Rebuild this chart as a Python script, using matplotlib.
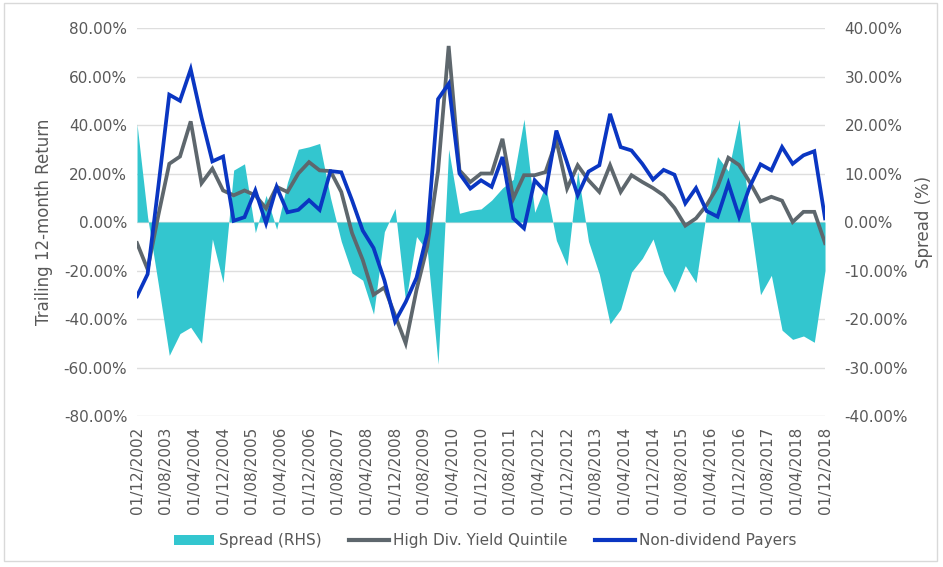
import matplotlib
matplotlib.use("Agg")
import matplotlib.pyplot as plt
import matplotlib.dates as mdates
from matplotlib.lines import Line2D
from matplotlib.patches import Patch, Rectangle
from matplotlib.ticker import FuncFormatter, FixedLocator
import pandas as pd

# quarterly observations, Dec 2002 .. Dec 2018
dates = pd.date_range("2002-12-01", "2018-12-01", freq="3MS")
tick_dates = pd.date_range("2002-12-01", "2018-12-01", freq="8MS")

# trailing 12-month return, % (left axis)
high_div = [
    -8.7, -19.5, 3.0, 24.0, 27.0, 41.5, 16.0, 22.0, 13.0, 11.0,
    13.0, 11.0, 5.6, 14.5, 12.4, 20.0, 24.7, 21.3, 21.0, 12.4,
    -4.5, -15.6, -30.0, -27.0, -38.5, -50.0, -28.0, -10.0, 21.0, 72.6,
    21.3, 16.5, 20.0, 20.0, 34.3, 9.7, 19.3, 19.3, 20.6, 33.6,
    13.8, 23.4, 17.2, 12.4, 23.4, 12.4, 19.3, 16.5, 14.0, 11.0,
    5.8, -1.5, 1.5, 7.0, 14.5, 26.5, 23.5, 16.5, 8.5, 10.4,
    8.8, 0.0, 4.2, 4.2, -8.7,
]
non_div = [
    -30.6, -21.5, 15.0, 52.5, 50.0, 63.0, 43.0, 25.0, 27.0, 0.5,
    2.0, 13.0, -0.5, 14.5, 4.0, 5.0, 9.0, 5.0, 21.0, 20.5,
    9.0, -3.5, -10.7, -24.0, -41.0, -33.0, -23.0, -4.6, 50.7, 57.0,
    20.0, 13.8, 17.2, 14.5, 26.8, 1.5, -2.6, 17.2, 12.4, 37.7,
    24.5, 11.0, 20.8, 23.4, 44.6, 30.9, 29.5, 24.0, 17.5, 21.5,
    19.5, 7.7, 14.0, 4.5, 2.2, 15.9, 2.2, 14.5, 23.8, 21.3,
    30.9, 24.0, 27.5, 29.2, 1.5,
]
# spread, % (right axis)
spread = [
    20.2, 1.0, -13.0, -27.5, -23.0, -21.7, -25.0, -3.5, -12.5, 10.7,
    12.0, -2.2, 5.5, -1.5, 8.2, 15.0, 15.5, 16.2, 5.0, -4.0,
    -10.5, -12.0, -19.0, -2.0, 2.8, -16.5, -3.0, -6.0, -29.3, 15.0,
    1.8, 2.4, 2.7, 4.5, 7.0, 8.8, 21.2, 2.0, 7.6, -3.8,
    -9.0, 10.5, -4.0, -10.8, -21.0, -18.0, -10.3, -7.5, -3.5, -10.5,
    -14.5, -9.0, -12.5, 2.5, 13.5, 10.5, 21.2, 1.0, -15.0, -11.0,
    -22.3, -24.2, -23.5, -24.8, -10.0,
]

teal = "#33C6CF"
grey = "#5E676D"
blue = "#0A36C2"
text_c = "#595959"

fig = plt.figure(figsize=(9.43, 5.67), dpi=100)
fig.patches.append(Rectangle((0.004, 0.01), 0.99, 0.985, transform=fig.transFigure,
                             fill=False, edgecolor="#d9d9d9", linewidth=1))
ax = fig.add_axes([0.1453, 0.2663, 0.7296, 0.6843])
ax2 = ax.twinx()
ax.set_zorder(ax2.get_zorder() + 1)
ax.patch.set_visible(False)

# spread area on the right axis, underneath the lines
ax2.fill_between(dates, spread, 0, color=teal, linewidth=0)
ax2.set_ylim(-40, 40)
ax2.yaxis.set_major_locator(FixedLocator(range(-40, 41, 10)))
ax2.yaxis.set_major_formatter(FuncFormatter(lambda v, p: f"{v:.2f}%"))
ax2.grid(axis="y", color="#dedede", linewidth=1)
ax2.set_axisbelow(True)
ax2.set_ylabel("Spread (%)", color=text_c, fontsize=12, labelpad=5)

ax.plot(dates, high_div, color=grey, linewidth=2.7, solid_joinstyle="miter")
ax.plot(dates, non_div, color=blue, linewidth=2.7, solid_joinstyle="miter")
ax.set_ylim(-80, 80)
ax.yaxis.set_major_locator(FixedLocator(range(-80, 81, 20)))
ax.yaxis.set_major_formatter(FuncFormatter(lambda v, p: f"{v:.2f}%"))
ax.set_ylabel("Trailing 12-month Return", color=text_c, fontsize=12, labelpad=8)

ax.set_xlim(dates[0], dates[-1])
ax.xaxis.set_major_locator(FixedLocator(mdates.date2num(tick_dates)))
ax.xaxis.set_major_formatter(mdates.DateFormatter("%d/%m/%Y"))
for a in (ax, ax2):
    for s in a.spines.values():
        s.set_visible(False)
    a.tick_params(length=0, labelcolor=text_c, labelsize=11)
ax.tick_params(axis="x", rotation=90, pad=8)
ax.tick_params(axis="y", pad=7)
ax2.tick_params(axis="y", pad=14)

handles = [
    Patch(facecolor=teal, edgecolor="none"),
    Line2D([], [], color=grey, linewidth=3),
    Line2D([], [], color=blue, linewidth=3),
]
fig.legend(handles, ["Spread (RHS)", "High Div. Yield Quintile", "Non-dividend Payers"],
           loc="center", bbox_to_anchor=(0.515, 0.046), ncol=3, frameon=False,
           fontsize=11, labelcolor=text_c, handlelength=2.6, columnspacing=1.8,
           handletextpad=0.3)

fig.savefig("out.png", dpi=100)
